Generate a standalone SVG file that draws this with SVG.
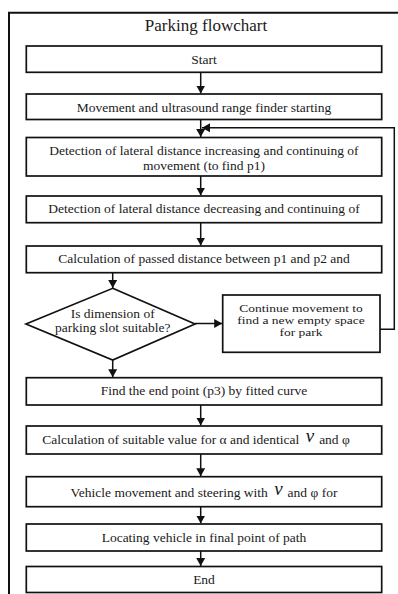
<svg xmlns="http://www.w3.org/2000/svg" width="398" height="594" viewBox="0 0 398 594">
<defs>
<style>
.box{fill:#fff;stroke:#111;stroke-width:1.7}
.ln{fill:none;stroke:#111;stroke-width:1.5}
.t{font-family:"Liberation Serif","Times New Roman",serif;font-size:13.5px;fill:#1a1a1a;text-anchor:middle}
.nu{font-style:italic;font-size:19px}
</style>
<marker id="ah" markerUnits="userSpaceOnUse" markerWidth="9" markerHeight="10" refX="8" refY="5" orient="auto">
<path d="M0,0.5 L8,5 L0,9.5 z" fill="#111"/>
</marker>
</defs>
<rect width="398" height="594" fill="#fff"/>
<path d="M9,594 V12.7 H398" fill="none" stroke="#111" stroke-width="2"/>
<text class="t" x="206" y="31" style="font-size:17px">Parking flowchart</text>

<g id="connectors">
<path class="ln" d="M200.7,72.3 V93.5" marker-end="url(#ah)"/>
<path class="ln" d="M200.7,119.5 V137" marker-end="url(#ah)"/>
<path class="ln" d="M380,329.3 H394.3 V127.7 H202" marker-end="url(#ah)"/>
<path class="ln" d="M200.7,176 V195.5" marker-end="url(#ah)"/>
<path class="ln" d="M200.7,222.7 V245.5" marker-end="url(#ah)"/>
<path class="ln" d="M112.7,272.7 V288" marker-end="url(#ah)"/>
<path class="ln" d="M195,323.5 H222.2" marker-end="url(#ah)"/>
<path class="ln" d="M112.7,360 V377.2" marker-end="url(#ah)"/>
<path class="ln" d="M200.7,405 V425.5" marker-end="url(#ah)"/>
<path class="ln" d="M200.7,454 V476.2" marker-end="url(#ah)"/>
<path class="ln" d="M200.7,506.7 V523.5" marker-end="url(#ah)"/>
<path class="ln" d="M200.7,551 V566" marker-end="url(#ah)"/>
</g>

<g id="start">
<rect class="box" x="26.3" y="46" width="355.4" height="26.3"/>
<text class="t" x="204" y="64">Start</text>
</g>
<g id="movement">
<rect class="box" x="26.3" y="94" width="355.4" height="25.5"/>
<text class="t" x="204" y="111.5">Movement and ultrasound range finder starting</text>
</g>
<g id="detect-increase">
<rect class="box" x="26.3" y="137.5" width="355.4" height="38.5"/>
<text class="t" x="204" y="155">Detection of lateral distance increasing and continuing of</text>
<text class="t" x="204" y="170">movement (to find p1)</text>
</g>
<g id="detect-decrease">
<rect class="box" x="26.3" y="196" width="355.4" height="26.7"/>
<text class="t" x="204" y="213">Detection of lateral distance decreasing and continuing of</text>
</g>
<g id="calc-distance">
<rect class="box" x="26.3" y="246" width="355.4" height="26.7"/>
<text class="t" x="204" y="263">Calculation of passed distance between p1 and p2 and</text>
</g>
<g id="decision">
<polygon class="box" points="112.7,288.3 195,324 112.7,360 26,324"/>
<text class="t" x="112.7" y="318">Is dimension of</text>
<text class="t" x="112.7" y="331.5">parking slot suitable?</text>
</g>
<g id="continue">
<rect class="box" x="222.7" y="295" width="157.3" height="57.3"/>
<text class="t" x="301" y="0" transform="matrix(1 0 0 0.8 0 312)">Continue movement to</text>
<text class="t" x="301" y="0" transform="matrix(1 0 0 0.8 0 324)">find a new empty space</text>
<text class="t" x="301" y="0" transform="matrix(1 0 0 0.8 0 336)">for park</text>
</g>
<g id="end-point">
<rect class="box" x="26.3" y="377.7" width="355.4" height="27.3"/>
<text class="t" x="204" y="395">Find the end point (p3) by fitted curve</text>
</g>
<g id="calc-alpha">
<rect class="box" x="26.3" y="426" width="355.4" height="28"/>
<text class="t" x="196" y="444">Calculation of suitable value for α and identical <tspan class="nu" dx="3" dy="-2">ν</tspan><tspan dx="5" dy="2">and φ</tspan></text>
</g>
<g id="vehicle">
<rect class="box" x="26.3" y="476.7" width="355.4" height="30"/>
<text class="t" x="204" y="496.5">Vehicle movement and steering with <tspan class="nu" dx="3" dy="-2">ν</tspan><tspan dx="5" dy="2">and φ for</tspan></text>
</g>
<g id="locating">
<rect class="box" x="26.3" y="524" width="355.4" height="27"/>
<text class="t" x="204" y="542">Locating vehicle in final point of path</text>
</g>
<g id="end">
<rect class="box" x="26.3" y="566.5" width="355.4" height="26"/>
<text class="t" x="204" y="583.5">End</text>
</g>
</svg>
